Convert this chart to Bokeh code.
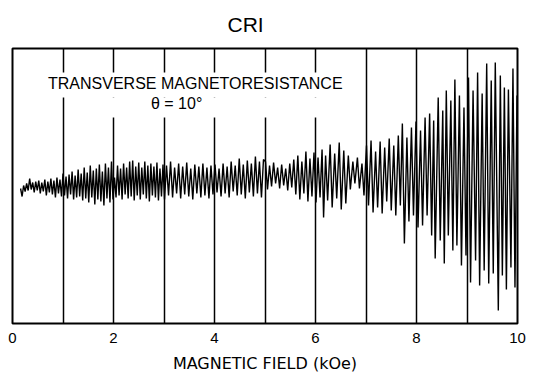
from bokeh.plotting import figure
from bokeh.models import Range1d, FixedTicker, Label, BoxAnnotation, ColumnDataSource
from bokeh.embed import file_html
from bokeh.resources import INLINE

# Magnetic field (kOe) and signal (arbitrary units: alternating maxima/minima)
field_a = [0.16, 0.19, 0.22, 0.25, 0.28, 0.31, 0.34, 0.37, 0.40, 0.43, 0.46, 0.49, 0.52, 0.55,
           0.58, 0.61, 0.64, 0.67, 0.70, 0.73, 0.76, 0.79, 0.82, 0.85, 0.88, 0.91, 0.94, 0.97,
           1.00, 1.03, 1.06, 1.09, 1.12, 1.15, 1.18, 1.21, 1.24, 1.27, 1.30, 1.33, 1.36, 1.39,
           1.42, 1.45, 1.48, 1.51, 1.54, 1.57, 1.60, 1.63, 1.66, 1.69, 1.72, 1.75, 1.78, 1.81,
           1.84, 1.87, 1.90, 1.93, 1.96, 1.99]
signal_a = [-3, -11, 0, -6, 2, -5, 7, -4, 3, -7, 4, -5, 5, -8,
            3, -6, 6, -10, 4, -7, 7, -9, 5, -12, 8, -8, 6, -11,
            12, -10, 9, -13, 11, -9, 14, -14, 10, -12, 16, -11, 12, -15,
            18, -13, 13, -17, 20, -12, 15, -19, 17, -14, 21, -16, 14, -20,
            22, -13, 18, -17, 24, -14]

field_b = [2.02, 2.05, 2.08, 2.11, 2.14, 2.17, 2.20, 2.23, 2.26, 2.29, 2.32, 2.35, 2.38, 2.41,
           2.44, 2.47, 2.50, 2.53, 2.56, 2.59, 2.62, 2.65, 2.68, 2.71, 2.74, 2.77, 2.80, 2.83,
           2.86, 2.89, 2.92, 2.95, 2.98, 3.01, 3.05, 3.09, 3.13, 3.17, 3.21, 3.25, 3.29, 3.33,
           3.37, 3.41, 3.45, 3.49, 3.53, 3.57, 3.61, 3.65, 3.69, 3.73, 3.77, 3.81, 3.85, 3.89,
           3.93, 3.97]
signal_b = [8, -12, 20, -10, 17, -14, 22, -9, 18, -13, 24, -11, 25, -15,
            19, -10, 23, -14, 18, -9, 24, -13, 20, -16, 22, -10, 19, -12,
            23, -15, 17, -11, 21, -14, 20, -10, 24, -12, 18, -8, 22, -13,
            19, -9, 23, -11, 17, -14, 21, -8, 19, -12, 22, -10, 18, -13,
            20, -9]

field_c = [4.01, 4.05, 4.09, 4.13, 4.17, 4.21, 4.25, 4.29, 4.33, 4.37, 4.41, 4.45, 4.49, 4.53,
           4.57, 4.61, 4.65, 4.69, 4.73, 4.77, 4.81, 4.85, 4.89, 4.93, 4.97,
           5.01, 5.05, 5.09, 5.13, 5.17, 5.21, 5.25, 5.29, 5.33, 5.37, 5.41, 5.45, 5.49, 5.53,
           5.57, 5.61, 5.65, 5.69, 5.73, 5.77, 5.81, 5.85, 5.89, 5.93, 5.97]
signal_c = [21, -7, 17, -11, 22, -8, 19, -12, 24, -6, 20, -10, 27, -9,
            21, -13, 25, -7, 22, -11, 29, -8, 24, -12, 26,
            24, -4, 20, -1, 23, 2, 18, -3, 21, 0, 17, -5, 22, -2,
            26, -9, 30, -14, 24, -8, 34, -16, 27, -11, 33]

field_d = [6.01, 6.05, 6.09, 6.13, 6.16, 6.20, 6.24, 6.29, 6.33, 6.38, 6.42, 6.47, 6.51, 6.56,
           6.60, 6.65, 6.69, 6.74, 6.78, 6.83, 6.87, 6.92, 6.96, 7.01, 7.05, 7.10, 7.14, 7.19,
           7.23, 7.28, 7.32, 7.37, 7.41, 7.46, 7.50, 7.55, 7.59, 7.64, 7.68, 7.72, 7.76, 7.81,
           7.85, 7.90, 7.94, 7.99, 8.03]
signal_d = [-17, 28, -12, 36, -32, 30, -15, 41, -22, 32, -13, 43, -24, 35,
            -18, 30, -4, 24, 2, 28, -3, 22, -10, 40, -20, 45, -27, 34,
            -22, 44, -28, 38, -16, 47, -25, 40, -30, 50, -20, 62, -58, 48,
            -36, 58, -30, 64, -42]

field_e = [8.08, 8.12, 8.17, 8.21, 8.26, 8.30, 8.34, 8.37, 8.43, 8.47, 8.52, 8.55, 8.59, 8.63,
           8.68, 8.72, 8.76, 8.80, 8.85, 8.89, 8.94, 8.98, 9.03, 9.07, 9.12, 9.17, 9.21, 9.25,
           9.30, 9.34, 9.39, 9.43, 9.48, 9.52, 9.56, 9.62, 9.66, 9.70, 9.74, 9.78, 9.82, 9.87,
           9.91, 9.95, 9.99]
signal_e = [55, -40, 68, -30, 72, -50, 65, -73, 88, -55, 75, -78, 95, -50,
            85, -65, 106, -60, 90, -80, 78, -70, 108, -97, 95, -75, 113, -100,
            92, -85, 122, -98, 105, -88, 123, -125, 110, -90, 98, -104, 96, -82,
            117, -102, 90]

x_ticks = [0, 2, 4, 6, 8, 10]
grid_ticks = [1, 2, 3, 4, 5, 6, 7, 8, 9]

field = field_a + field_b + field_c + field_d + field_e
signal = signal_a + signal_b + signal_c + signal_d + signal_e
src = ColumnDataSource(dict(field=field, signal=signal))

FONT = "Liberation Sans"

p = figure(frame_width=505, frame_height=275, output_backend="svg", toolbar_location=None,
           x_range=Range1d(0, 10), y_range=Range1d(-138, 137),
           min_border_left=12, min_border_right=17, min_border_top=48, min_border_bottom=49)
p.background_fill_color = "white"
p.border_fill_color = "white"
p.outline_line_color = "black"
p.outline_line_width = 2

p.title.text = "CRI"
p.title.align = "left"
p.title.vertical_align = "top"
p.title.offset = 215
p.title.text_font = FONT
p.title.text_font_size = "21px"
p.title.text_font_style = "normal"
p.title.text_color = "black"
p.title.standoff = 22

p.yaxis.visible = False
p.ygrid.visible = False
p.xgrid.ticker = FixedTicker(ticks=grid_ticks)
p.xgrid.grid_line_color = "black"
p.xgrid.grid_line_width = 1.5
p.xgrid.grid_line_alpha = 1.0

ax = p.xaxis[0]
ax.ticker = FixedTicker(ticks=x_ticks)
ax.axis_line_color = None
ax.major_tick_line_color = None
ax.minor_tick_line_color = None
ax.major_tick_out = 0
ax.major_tick_in = 0
ax.minor_tick_out = 0
ax.minor_tick_in = 0
ax.major_label_text_font = FONT
ax.major_label_text_font_size = "15px"
ax.major_label_text_color = "black"
ax.major_label_text_line_height = 0.9
ax.major_label_standoff = 9
ax.axis_label = "MAGNETIC FIELD (kOe)"
ax.axis_label_text_font = "DejaVu Sans"
ax.axis_label_text_font_size = "16px"
ax.axis_label_text_font_style = "normal"
ax.axis_label_text_color = "black"
ax.axis_label_text_line_height = 0.9
ax.axis_label_standoff = 8

p.line("field", "signal", source=src, line_color="black", line_width=1.4)

# white gaps behind the annotation text
p.add_layout(BoxAnnotation(left=0.7, right=6.3, bottom=88, top=113,
                           fill_color="white", fill_alpha=1.0, line_color=None))
p.add_layout(BoxAnnotation(left=1.7, right=6.3, bottom=68, top=88,
                           fill_color="white", fill_alpha=1.0, line_color=None))

p.add_layout(Label(x=3.62, y=102, text="TRANSVERSE MAGNETORESISTANCE", text_align="center",
                   text_baseline="middle", text_font=FONT, text_font_size="16px",
                   text_color="black"))
p.add_layout(Label(x=3.25, y=82, text="\u03b8 = 10\u00b0", text_align="center",
                   text_baseline="middle", text_font=FONT, text_font_size="16px",
                   text_color="black"))

open("out.html", "w").write(file_html(p, INLINE))
